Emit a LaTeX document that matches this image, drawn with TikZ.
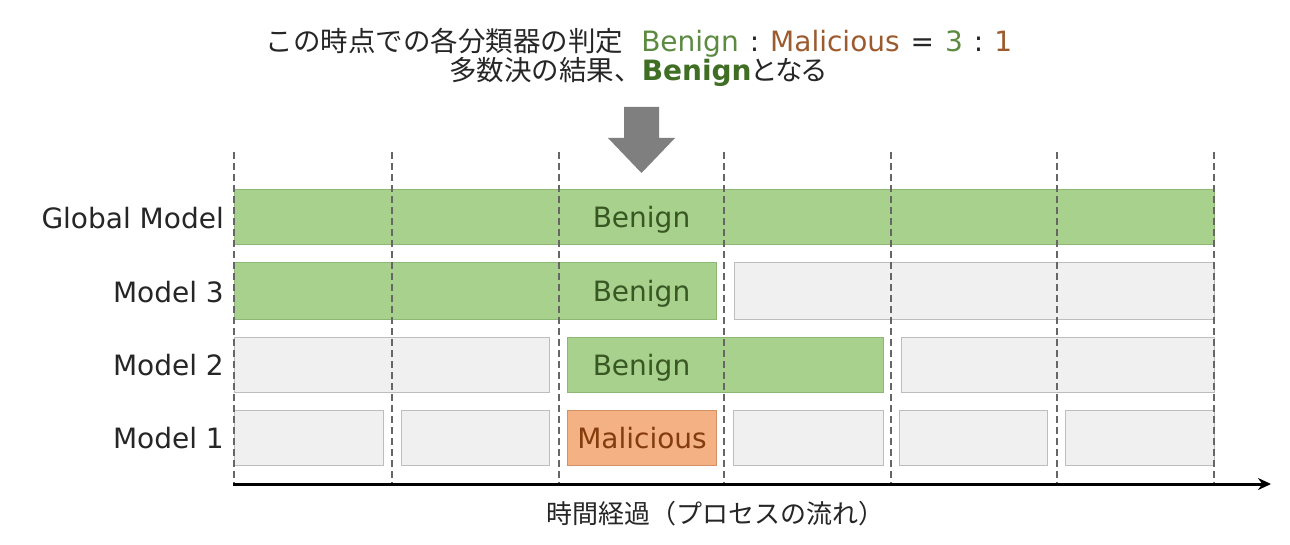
\documentclass[tikz,border=0pt]{standalone}
\usepackage{fontspec}
\setmainfont{DejaVu Sans}
\newfontfamily\jp{Noto Sans CJK JP}
\newfontfamily\jpp[RawFeature=+palt]{Noto Sans CJK JP}
\usetikzlibrary{arrows.meta}
\definecolor{gfill}{HTML}{A9D18E}
\definecolor{gdraw}{HTML}{8DB873}
\definecolor{gtext}{HTML}{385723}
\definecolor{ofill}{HTML}{F4B183}
\definecolor{odraw}{HTML}{D39067}
\definecolor{otext}{HTML}{843C0C}
\definecolor{efill}{HTML}{F0F0F0}
\definecolor{edraw}{HTML}{BDBDBD}
\definecolor{tgreen}{HTML}{5B8A40}
\definecolor{tbold}{HTML}{3F6E24}
\definecolor{tbrown}{HTML}{9C5B2E}
\definecolor{ink}{HTML}{262626}
\definecolor{agray}{HTML}{7F7F7F}
\definecolor{dgray}{HTML}{666666}
\tikzset{
  bx/.style={rectangle, anchor=north west, inner sep=0pt, outer sep=0pt, line width=1pt},
  gbox/.style={bx, fill=gfill, draw=gdraw},
  obox/.style={bx, fill=ofill, draw=odraw},
  ebox/.style={bx, fill=efill, draw=edraw},
  boxtxt/.style={anchor=base, inner sep=0pt, font=\fontsize{28}{34}\selectfont},
  rowlbl/.style={anchor=base east, inner sep=0pt, text=ink, font=\fontsize{28}{34}\selectfont},
  dashline/.style={draw=dgray, line width=1.6pt, dash pattern=on 7pt off 4pt},
  timeaxis/.style={draw=black, line width=3pt, -{Stealth[length=13pt,width=12pt]}},
  ttl/.style={anchor=base, inner sep=0pt, text=ink, font=\fontsize{28}{34}\selectfont},
}
\begin{document}
\begin{tikzpicture}[x=1pt,y=-1pt]
\useasboundingbox (0,0) rectangle (1290,545);
\fill[white] (0,0) rectangle (1290,545);

% title
\node[ttl] (t1) at (639,52) {{\jp\fontsize{27.5}{34}\selectfont この時点での各分類器の判定}\hspace{18pt}\textcolor{tgreen}{Benign}\hspace{11pt}:\hspace{11pt}\textcolor{tbrown}{Malicious}\hspace{11pt}=\hspace{11pt}\textcolor{tgreen}{3}\hspace{11pt}:\hspace{11pt}\textcolor{tbrown}{1}};
\node[ttl] (t2) at (638,81) {{\jp\fontsize{27.5}{34}\selectfont 多数決の結果、}\textcolor{tbold}{\bfseries Benign}{\jpp\fontsize{27.5}{34}\selectfont となる}};

% block arrow
\fill[agray] (624,107) -- (659,107) -- (659,138) -- (675,138) -- (641.5,173) -- (608,138) -- (624,138) -- cycle;

% Global model
\node[gbox, minimum width=980pt, minimum height=55pt] (gm) at (234,190) {};
% Model 3
\node[gbox, minimum width=482pt, minimum height=56pt] (m3a) at (234,263) {};
\node[ebox, minimum width=480pt, minimum height=56pt] (m3b) at (734,263) {};
% Model 2
\node[ebox, minimum width=315pt, minimum height=55pt] (m2a) at (234,337) {};
\node[gbox, minimum width=316pt, minimum height=55pt] (m2b) at (567,337) {};
\node[ebox, minimum width=313pt, minimum height=55pt] (m2c) at (901,337) {};
% Model 1
\node[ebox, minimum width=149pt, minimum height=55pt] (m1a) at (234,410) {};
\node[ebox, minimum width=148pt, minimum height=55pt] (m1b) at (401,410) {};
\node[obox, minimum width=149pt, minimum height=55pt] (m1c) at (567,410) {};
\node[ebox, minimum width=150pt, minimum height=55pt] (m1d) at (733,410) {};
\node[ebox, minimum width=148pt, minimum height=55pt] (m1e) at (899,410) {};
\node[ebox, minimum width=149pt, minimum height=55pt] (m1f) at (1065,410) {};

% dashed time separators
\foreach \x in {234,392,559,724,891,1057,1214}
  \draw[dashline] (\x,152) -- (\x,484);

% box texts
\node[boxtxt, text=gtext] (gmt) at (641.5,228) {Benign};
\node[boxtxt, text=gtext] (m3t) at (641.5,301.5) {Benign};
\node[boxtxt, text=gtext] (m2t) at (641.5,375) {Benign};
\node[boxtxt, text=otext] (m1t) at (642,448) {Malicious};

% row labels
\node[rowlbl] (lg) at (224,229) {Global Model};
\node[rowlbl] (l3) at (224,302) {Model 3};
\node[rowlbl] (l2) at (224,375) {Model 2};
\node[rowlbl] (l1) at (224,448) {Model 1};

% time axis
\coordinate (axs) at (233,484);
\coordinate (axe) at (1271,484);
\draw[timeaxis] (axs) -- (axe);
\node[ttl, font=\jp\fontsize{26}{32}\selectfont] (xl) at (715,523) {時間経過（プロセスの流れ）};
\end{tikzpicture}
\end{document}
